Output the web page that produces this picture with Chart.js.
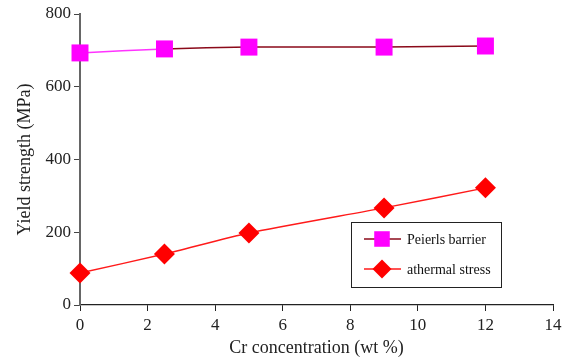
<!DOCTYPE html>
<html>
<head>
<meta charset="utf-8">
<script src="https://cdn.jsdelivr.net/npm/chart.js@4/dist/chart.umd.min.js"></script>
<style>
  html, body { margin: 0; padding: 0; background: #fff; }
  #wrap { width: 570px; height: 359px; }
</style>
</head>
<body>
<div id="wrap"><canvas id="c" width="570" height="359"></canvas></div>
<script>
const crConc = [0, 2.5, 5, 9, 12];
const peierls = [693, 704, 709, 709, 712];
const athermal = [88, 140, 198, 267, 322];
const xTicks = [0, 2, 4, 6, 8, 10, 12, 14];
const yTicks = [0, 200, 400, 600, 800];

const FONT = "'Liberation Serif', 'DejaVu Serif', serif";
const toXY = (xs, ys) => xs.map((x, i) => ({ x, y: ys[i] }));

// legend drawn inside the plot, like the original figure
const boxLegend = {
  id: "boxLegend",
  afterDatasetsDraw(chart) {
    const ctx = chart.ctx;
    const a = chart.chartArea;
    const x0 = a.left + 271, y0 = a.top + 208, w = 150, h = 65;
    ctx.save();
    ctx.fillStyle = "#fff";
    ctx.fillRect(x0, y0, w, h);
    ctx.strokeStyle = "#222";
    ctx.lineWidth = 1;
    ctx.strokeRect(x0 + 0.5, y0 + 0.5, w, h);
    ctx.font = "14px " + FONT;
    ctx.textBaseline = "middle";
    chart.data.datasets.forEach((ds, i) => {
      const y = y0 + 17 + i * 30;
      ctx.strokeStyle = ds.borderColor;
      ctx.lineWidth = ds.borderWidth;
      ctx.beginPath();
      ctx.moveTo(x0 + 13, y);
      ctx.lineTo(x0 + 50, y);
      ctx.stroke();
      ctx.fillStyle = ds.pointBackgroundColor;
      Chart.helpers.drawPoint(ctx, { pointStyle: ds.pointStyle, radius: ds.pointRadius - 1, borderWidth: 0 }, x0 + 31, y);
      ctx.fillStyle = "#111";
      ctx.fillText(ds.label, x0 + 56, y + 1);
    });
    ctx.restore();
  }
};

new Chart(document.getElementById("c"), {
  type: "line",
  data: {
    datasets: [
      {
        label: "Peierls barrier",
        data: toXY(crConc, peierls),
        borderColor: "#8b0a1a",
        borderWidth: 1.5,
        segment: { borderColor: (c) => (c.p0DataIndex === 0 ? "#ff33ff" : undefined) },
        pointStyle: "rect",
        pointRadius: 12,
        pointHoverRadius: 12,
        pointBackgroundColor: "#ff00ff",
        pointBorderWidth: 0,
        tension: 0.2,
        clip: false
      },
      {
        label: "athermal stress",
        data: toXY(crConc, athermal),
        borderColor: "#ff1a1a",
        borderWidth: 1.5,
        pointStyle: "rectRot",
        pointRadius: 10.5,
        pointHoverRadius: 10.5,
        pointBackgroundColor: "#ff0000",
        pointBorderWidth: 0,
        tension: 0.2,
        clip: false
      }
    ]
  },
  options: {
    responsive: false,
    animation: false,
    events: [],
    layout: { padding: { left: 0, right: 17, top: 14, bottom: 0 } },
    plugins: { legend: { display: false }, tooltip: { enabled: false } },
    scales: {
      x: {
        type: "linear",
        min: 0,
        max: 14,
        afterBuildTicks: (s) => { s.ticks = xTicks.map((v) => ({ value: v })); },
        afterFit: (s) => { s.height = 54; },
        ticks: { color: "#222", font: { family: FONT, size: 17 }, padding: 4, maxRotation: 0 },
        grid: { drawOnChartArea: false, tickLength: 6, color: "#222", tickWidth: 1 },
        border: { color: "#222", width: 1.2 },
        title: { display: true, text: "Cr concentration (wt %)", color: "#222", font: { family: FONT, size: 18 }, padding: { top: 0, bottom: 0 } }
      },
      y: {
        min: 0,
        max: 800,
        afterBuildTicks: (s) => { s.ticks = yTicks.map((v) => ({ value: v })); },
        afterFit: (s) => { s.width = 80; },
        ticks: { color: "#222", font: { family: FONT, size: 17 }, padding: 3 },
        grid: { drawOnChartArea: false, tickLength: 6, color: "#444", tickWidth: 1 },
        border: { color: "#666", width: 2 },
        title: { display: true, text: "Yield strength (MPa)", color: "#222", font: { family: FONT, size: 18 }, padding: { top: 14, bottom: 0 } }
      }
    }
  },
  plugins: [boxLegend]
});
</script>
</body>
</html>
